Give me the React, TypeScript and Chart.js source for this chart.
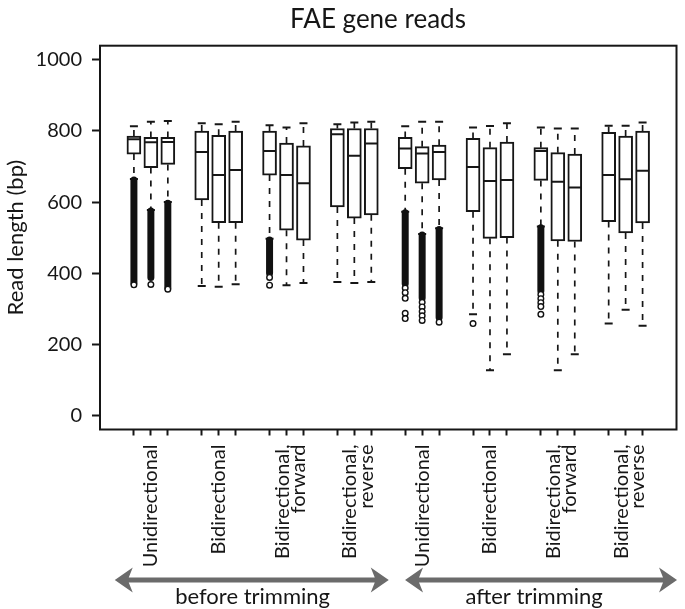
import React, { useEffect, useRef } from 'react';
import { Chart, registerables } from 'chart.js';

Chart.register(...registerables);

// ---------- data ----------
const chartTitle = 'FAE gene reads';
const yTitle = 'Read length (bp)';
const groupLabels: string[][] = [
  ['Unidirectional'],
  ['Bidirectional'],
  ['Bidirectional,', 'forward'],
  ['Bidirectional,', 'reverse'],
  ['Unidirectional'],
  ['Bidirectional'],
  ['Bidirectional,', 'forward'],
  ['Bidirectional,', 'reverse'],
];
const periodLabels = ['before trimming', 'after trimming'];
const yTickValues = [0, 200, 400, 600, 800, 1000];

// slot index of every box on the x axis (3 boxes per group, 1 empty slot between groups)
const boxSlots = [0, 1, 2, 4, 5, 6, 8, 9, 10, 12, 13, 14, 16, 17, 18, 20, 21, 22, 24, 25, 26, 28, 29, 30];

const whiskerLow = [665, 578, 600, 364, 362, 369, 497, 366, 372, 375, 372, 375,
  573, 510, 526, 284, 127, 172, 531, 127, 172, 258, 297, 252];
const quartile1 = [735, 697, 706, 606, 542, 542, 676, 521, 493, 586, 555, 564,
  694, 653, 662, 573, 498, 500, 661, 491, 489, 545, 513, 541];
const medians = [777, 768, 769, 741, 676, 690, 744, 676, 653, 791, 730, 765,
  751, 737, 741, 699, 659, 662, 744, 657, 641, 676, 664, 688];
const quartile3 = [786, 782, 782, 800, 788, 800, 800, 766, 758, 807, 807, 807,
  782, 756, 760, 779, 753, 769, 753, 739, 735, 796, 786, 800];
const whiskerHigh = [813, 826, 828, 822, 819, 826, 816, 810, 822, 819, 824, 826,
  813, 826, 826, 810, 814, 822, 810, 807, 807, 815, 815, 824];

// dense runs of overlapping outliers (top / bottom of the run), null = none
const denseOutlierTop: (number | null)[] = [662, 575, 597, null, null, null, 493, null, null, null, null, null,
  570, 507, 523, null, null, null, 528, null, null, null, null, null];
const denseOutlierBottom: (number | null)[] = [372, 388, 358, null, null, null, 400, null, null, null, null, null,
  370, 330, 275, null, null, null, 350, null, null, null, null, null];

// individual outliers
const outlierSlot = [0, 1, 2, 8, 8, 16, 16, 16, 16, 16, 17, 17, 17, 17, 17, 18, 20, 24, 24, 24, 24, 24];
const outlierValue = [367, 368, 355, 388, 366, 358, 345, 329, 287, 272, 318, 305, 292, 280, 267, 262, 258, 340, 328, 317, 306, 284];

// ---------- layout constants ----------
const W = 685;
const H = 609;
const TEXT = '#161616';
const FONT = 'Lato, "Open Sans", sans-serif';
const X_MIN = -2;
const X_MAX = 32;
const PLOT_LEFT = 100;
const PLOT_RIGHT_PAD = 2.3;
const PLOT_TOP = 45.7;
const PLOT_BOTTOM = 429.5;
const pxPerUnit = (W - PLOT_RIGHT_PAD - PLOT_LEFT) / (X_MAX - X_MIN);
const TWO_LINE_SHIFT = 4.4 / pxPerUnit;
const arrowSpans = [[-1.13, 15.03], [15.99, 32.03]];
const periodCenters = [7.0, 23.6];

const boxSet = new Set(boxSlots);
const labelMap = new Map<number, string[] | string>();
const xTickValues: number[] = [...boxSlots];
groupLabels.forEach((lab, g) => {
  const center = boxSlots[g * 3 + 1];
  if (lab.length === 1) {
    labelMap.set(center, lab[0]);
  } else {
    const v = center - TWO_LINE_SHIFT;
    labelMap.set(v, lab);
    xTickValues.push(v);
  }
});
xTickValues.sort((a, b) => a - b);

function drawArrow(ctx: CanvasRenderingContext2D, x1: number, x2: number, y: number) {
  const headLen = 18, headHalf = 12.5, notch = 4, shaft = 2.6;
  ctx.beginPath();
  ctx.moveTo(x1, y);
  ctx.lineTo(x1 + headLen, y - headHalf);
  ctx.lineTo(x1 + headLen - notch, y - shaft);
  ctx.lineTo(x2 - headLen + notch, y - shaft);
  ctx.lineTo(x2 - headLen, y - headHalf);
  ctx.lineTo(x2, y);
  ctx.lineTo(x2 - headLen, y + headHalf);
  ctx.lineTo(x2 - headLen + notch, y + shaft);
  ctx.lineTo(x1 + headLen - notch, y + shaft);
  ctx.lineTo(x1 + headLen, y + headHalf);
  ctx.closePath();
  ctx.fill();
}

const decorPlugin = {
  id: 'decor',
  afterDraw(chart: any) {
    const { ctx, chartArea: a, scales } = chart;
    const x = scales.x;
    ctx.save();
    ctx.strokeStyle = TEXT;
    ctx.lineWidth = 2;
    ctx.strokeRect(a.left, a.top, a.right - a.left, a.bottom - a.top);

    ctx.fillStyle = TEXT;
    ctx.font = `26px ${FONT}`;
    ctx.textAlign = 'center';
    ctx.textBaseline = 'alphabetic';
    ctx.fillText(chartTitle, 378, 28.3);

    ctx.fillStyle = '#6b6b6b';
    arrowSpans.forEach(([s, e]) => {
      drawArrow(ctx, x.getPixelForValue(s), x.getPixelForValue(e), a.bottom + 150.5);
    });
    ctx.fillStyle = TEXT;
    ctx.font = `22px ${FONT}`;
    periodLabels.forEach((t, i) => {
      ctx.fillText(t, x.getPixelForValue(periodCenters[i]), a.bottom + 174.5);
    });
    ctx.restore();
  },
};

export default function App() {
  const ref = useRef<HTMLCanvasElement>(null);

  useEffect(() => {
    document.body.style.margin = '0';
    const canvas = ref.current;
    if (!canvas) return;

    const whiskerPts: any[] = [];
    const capPts: any[] = [];
    boxSlots.forEach((p, i) => {
      whiskerPts.push({ x: p, y: quartile3[i] }, { x: p, y: whiskerHigh[i] }, { x: p, y: null });
      whiskerPts.push({ x: p, y: quartile1[i] }, { x: p, y: whiskerLow[i] }, { x: p, y: null });
      capPts.push({ x: p, y: whiskerHigh[i] }, { x: p, y: whiskerLow[i] });
    });
    const bandPts: any[] = [];
    boxSlots.forEach((p, i) => {
      const t = denseOutlierTop[i];
      const b = denseOutlierBottom[i];
      if (t != null && b != null) {
        bandPts.push({ x: p, y: t }, { x: p, y: b }, { x: p, y: null });
      }
    });

    const chart = new Chart(canvas, {
      type: 'bar',
      data: {
        datasets: [
          {
            type: 'line',
            data: whiskerPts,
            borderColor: TEXT,
            borderWidth: 1.7,
            borderDash: [6, 7],
            pointRadius: 0,
            spanGaps: false,
            fill: false,
            order: 5,
          } as any,
          {
            type: 'bar',
            data: boxSlots.map((p, i) => ({ x: p, y: [quartile1[i], quartile3[i]] })),
            backgroundColor: '#ffffff',
            borderColor: TEXT,
            borderWidth: 2,
            borderSkipped: false,
            barThickness: 14,
            order: 4,
          } as any,
          {
            type: 'scatter',
            data: boxSlots.map((p, i) => ({ x: p, y: medians[i] })),
            pointStyle: 'line',
            pointRadius: 6.5,
            pointBorderWidth: 2,
            pointBorderColor: TEXT,
            order: 3,
          } as any,
          {
            type: 'scatter',
            data: capPts,
            pointStyle: 'line',
            pointRadius: 4,
            pointBorderWidth: 2,
            pointBorderColor: TEXT,
            order: 3,
          } as any,
          {
            type: 'line',
            data: bandPts,
            borderColor: '#111111',
            borderWidth: 7,
            borderCapStyle: 'round',
            pointRadius: 0,
            spanGaps: false,
            fill: false,
            order: 2,
          } as any,
          {
            type: 'scatter',
            data: outlierSlot.map((p, i) => ({ x: p, y: outlierValue[i] })),
            pointStyle: 'circle',
            pointRadius: 2.8,
            pointBorderWidth: 1.4,
            pointBackgroundColor: '#ffffff',
            pointBorderColor: '#111111',
            order: 1,
          } as any,
        ],
      },
      options: {
        responsive: false,
        animation: false,
        events: [],
        layout: { padding: { top: PLOT_TOP, right: PLOT_RIGHT_PAD, left: 0, bottom: 0 } },
        plugins: { legend: { display: false }, tooltip: { enabled: false }, title: { display: false } },
        scales: {
          x: {
            type: 'linear',
            min: X_MIN,
            max: X_MAX,
            offset: false,
            afterBuildTicks: (s: any) => { s.ticks = xTickValues.map((v) => ({ value: v })); },
            afterFit: (s: any) => { s.height = H - PLOT_BOTTOM; },
            grid: {
              offset: false,
              drawOnChartArea: false,
              tickLength: 6,
              tickWidth: 2,
              tickColor: (c: any) => (c.tick && boxSet.has(c.tick.value) ? TEXT : 'rgba(0,0,0,0)'),
            },
            border: { display: false },
            ticks: {
              autoSkip: false,
              minRotation: 90,
              maxRotation: 90,
              padding: 9,
              color: TEXT,
              font: { family: FONT, size: 20, lineHeight: 0.82 },
              callback: (v: any) => labelMap.get(v) ?? '',
            },
          } as any,
          y: {
            type: 'linear',
            min: -40,
            max: 1040,
            afterBuildTicks: (s: any) => { s.ticks = yTickValues.map((v) => ({ value: v })); },
            afterFit: (s: any) => { s.width = PLOT_LEFT; },
            grid: { drawOnChartArea: false, tickLength: 8, tickWidth: 2, tickColor: TEXT },
            border: { display: false },
            ticks: {
              color: TEXT,
              padding: 10,
              font: { family: FONT, size: 20 },
              callback: (v: any) => String(v),
            },
            title: {
              display: true,
              text: yTitle,
              color: TEXT,
              font: { family: FONT, size: 22 },
              padding: { top: 3, bottom: 0 },
            },
          } as any,
        },
      },
      plugins: [decorPlugin],
    });

    return () => chart.destroy();
  }, []);

  return <canvas ref={ref} width={W} height={H} style={{ display: 'block', width: W, height: H }} />;
}
